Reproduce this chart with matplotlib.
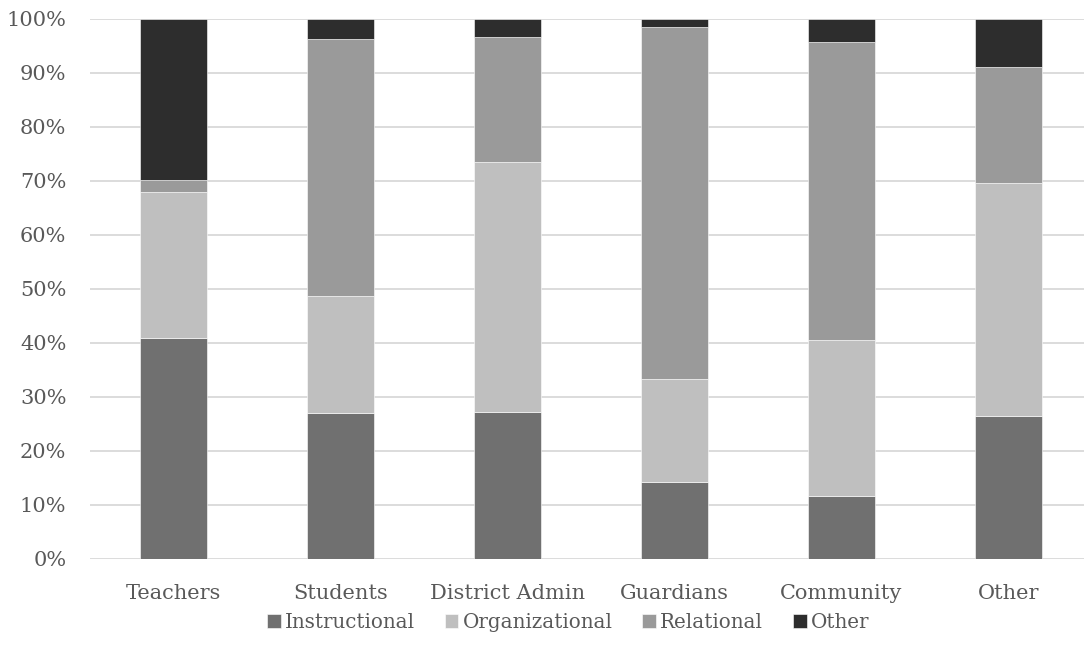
import matplotlib
matplotlib.use("Agg")
import matplotlib.pyplot as plt
import numpy as np

categories = ["Teachers", "Students", "District Admin", "Guardians", "Community", "Other"]
series_names = ["Instructional", "Organizational", "Relational", "Other"]
instructional = [41.0, 27.1, 27.3, 14.3, 11.6, 26.5]
organizational = [27.0, 21.6, 46.3, 19.1, 29.0, 43.2]
relational = [2.1, 47.6, 23.0, 65.1, 55.2, 21.4]
other = [29.9, 3.7, 3.4, 1.5, 4.2, 8.9]
y_ticks = [0, 10, 20, 30, 40, 50, 60, 70, 80, 90, 100]
y_tick_labels = [f"{t}%" for t in y_ticks]

colors = ["#707070", "#bfbfbf", "#9a9a9a", "#2d2d2d"]
text_color = "#595959"

plt.rcParams["font.family"] = ["DejaVu Serif"]

W, H = 1084, 663
fig = plt.figure(figsize=(W / 100, H / 100), dpi=100)
left, right, top, bottom = 90, 1092, 19, 559
ax = fig.add_axes([left / W, 1 - bottom / H, (right - left) / W, (bottom - top) / H])

x = np.arange(len(categories))
base = np.zeros(len(categories))
handles = []
for name, vals, col in zip(series_names, [instructional, organizational, relational, other], colors):
    b = ax.bar(x, vals, width=0.40, bottom=base, color=col, label=name,
               edgecolor="#ffffff", linewidth=0.4, zorder=3)
    handles.append(b)
    base = base + np.array(vals)

ax.set_xlim(-0.5, len(categories) - 0.5)
ax.set_ylim(0, 100)
ax.set_yticks(y_ticks)
ax.set_yticklabels(y_tick_labels)
ax.set_xticks(x)
ax.set_xticklabels(categories)
ax.grid(axis="y", color="#d9d9d9", linewidth=1.3, zorder=0)
for s in ax.spines.values():
    s.set_visible(False)
ax.tick_params(axis="both", length=0, colors=text_color, labelsize=15)
ax.tick_params(axis="x", pad=18)
ax.tick_params(axis="y", pad=17)

leg = fig.legend(handles=handles, labels=series_names, loc="center",
                 bbox_to_anchor=(568 / W, 1 - 622 / H), ncol=4, frameon=False,
                 fontsize=14.3, handlelength=0.7, handleheight=0.7,
                 handletextpad=0.2, columnspacing=1.5)
for t in leg.get_texts():
    t.set_color(text_color)

fig.savefig("out.png", dpi=100)
